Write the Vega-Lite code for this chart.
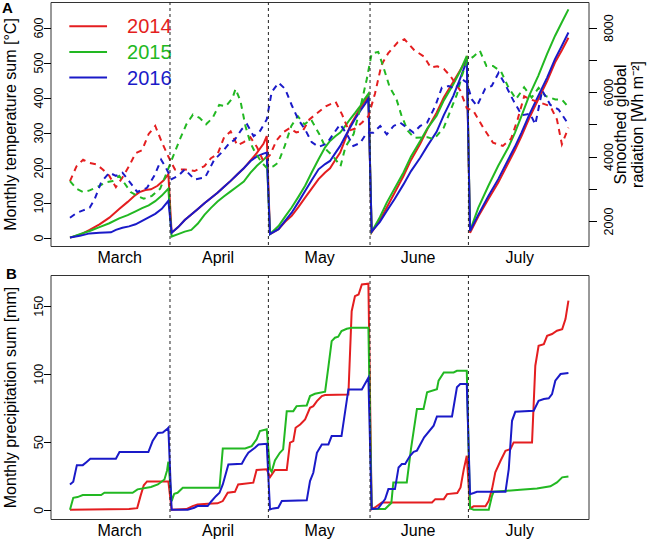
{
"$schema":"https://vega.github.io/schema/vega-lite/v6.json",
"padding":{"left":0.5,"top":0,"right":0,"bottom":0},
"config":{"view":{"stroke":"#333","strokeWidth":1},"font":"Liberation Sans",
"axis":{"domain":false,"grid":false,"labelFont":"Liberation Sans","titleFont":"Liberation Sans","labelColor":"#000","titleColor":"#000","tickColor":"#000","labelFontSize":12.5,"titleFontSize":16,"titleFontWeight":"normal","tickSize":7},
"title":{"font":"Liberation Sans","fontSize":15,"fontWeight":"bold","color":"#000"}},
"datasets":{
"sep":[{"d":31.5},{"d":61.5},{"d":92.5},{"d":122.5}],
"leg":[{"yr":"2014","x1":0.8,"x2":12.3,"xt":18.4,"ly":604},{"yr":"2015","x1":0.8,"x2":12.3,"xt":18.4,"ly":530},{"yr":"2016","x1":0.8,"x2":12.3,"xt":18.4,"ly":457}],
"temp":[
{"yr":"2014","d":1,"v":0},{"yr":"2014","d":4,"v":8},{"yr":"2014","d":7,"v":22},{"yr":"2014","d":10,"v":38},{"yr":"2014","d":13,"v":57},{"yr":"2014","d":16,"v":82},{"yr":"2014","d":18.6,"v":102},{"yr":"2014","d":20.5,"v":118},{"yr":"2014","d":22.2,"v":130},{"yr":"2014","d":24,"v":136},{"yr":"2014","d":25.7,"v":138},{"yr":"2014","d":27.7,"v":148},{"yr":"2014","d":29.5,"v":163},{"yr":"2014","d":31,"v":181},
{"yr":"2014","d":32,"v":14},{"yr":"2014","d":34,"v":30},{"yr":"2014","d":36,"v":50},{"yr":"2014","d":38,"v":66},{"yr":"2014","d":40,"v":82},{"yr":"2014","d":42,"v":98},{"yr":"2014","d":44,"v":113},{"yr":"2014","d":46,"v":128},{"yr":"2014","d":48,"v":145},{"yr":"2014","d":50,"v":162},{"yr":"2014","d":52,"v":180},{"yr":"2014","d":54,"v":198},{"yr":"2014","d":56,"v":220},{"yr":"2014","d":58,"v":242},{"yr":"2014","d":60,"v":268},{"yr":"2014","d":61,"v":290},
{"yr":"2014","d":62,"v":10},{"yr":"2014","d":64.6,"v":24},{"yr":"2014","d":66.6,"v":45},{"yr":"2014","d":68.6,"v":62},{"yr":"2014","d":70.7,"v":88},{"yr":"2014","d":72.7,"v":114},{"yr":"2014","d":74.7,"v":140},{"yr":"2014","d":76.8,"v":167},{"yr":"2014","d":78.8,"v":186},{"yr":"2014","d":80.3,"v":198},{"yr":"2014","d":81.8,"v":220},{"yr":"2014","d":83.4,"v":243},{"yr":"2014","d":85,"v":282},{"yr":"2014","d":86.4,"v":319},{"yr":"2014","d":88,"v":345},{"yr":"2014","d":89.5,"v":371},{"yr":"2014","d":91,"v":390},{"yr":"2014","d":92,"v":405},
{"yr":"2014","d":93,"v":15},{"yr":"2014","d":95.5,"v":50},{"yr":"2014","d":97.6,"v":86},{"yr":"2014","d":100,"v":128},{"yr":"2014","d":102.7,"v":176},{"yr":"2014","d":105,"v":222},{"yr":"2014","d":107.8,"v":268},{"yr":"2014","d":110,"v":310},{"yr":"2014","d":112.8,"v":357},{"yr":"2014","d":115,"v":400},{"yr":"2014","d":117.9,"v":445},{"yr":"2014","d":120,"v":478},{"yr":"2014","d":122,"v":511},
{"yr":"2014","d":123,"v":14},{"yr":"2014","d":125.5,"v":60},{"yr":"2014","d":128.6,"v":110},{"yr":"2014","d":131.6,"v":157},{"yr":"2014","d":134.7,"v":214},{"yr":"2014","d":136.7,"v":250},{"yr":"2014","d":138.7,"v":290},{"yr":"2014","d":141,"v":340},{"yr":"2014","d":143.8,"v":395},{"yr":"2014","d":146.5,"v":447},{"yr":"2014","d":148.9,"v":500},{"yr":"2014","d":151,"v":535},{"yr":"2014","d":153,"v":571},
{"yr":"2015","d":1,"v":0},{"yr":"2015","d":4,"v":10},{"yr":"2015","d":7,"v":19},{"yr":"2015","d":10,"v":30},{"yr":"2015","d":13,"v":41},{"yr":"2015","d":16,"v":55},{"yr":"2015","d":18.6,"v":64},{"yr":"2015","d":21,"v":75},{"yr":"2015","d":23,"v":84},{"yr":"2015","d":25,"v":92},{"yr":"2015","d":27,"v":104},{"yr":"2015","d":29,"v":120},{"yr":"2015","d":31,"v":140},
{"yr":"2015","d":32,"v":3},{"yr":"2015","d":34,"v":10},{"yr":"2015","d":36,"v":17},{"yr":"2015","d":38,"v":22},{"yr":"2015","d":40,"v":40},{"yr":"2015","d":42,"v":65},{"yr":"2015","d":44,"v":85},{"yr":"2015","d":46,"v":103},{"yr":"2015","d":48,"v":118},{"yr":"2015","d":50,"v":132},{"yr":"2015","d":52,"v":146},{"yr":"2015","d":54,"v":160},{"yr":"2015","d":56,"v":185},{"yr":"2015","d":58,"v":205},{"yr":"2015","d":60,"v":222},{"yr":"2015","d":61,"v":232},
{"yr":"2015","d":62,"v":10},{"yr":"2015","d":64.6,"v":33},{"yr":"2015","d":66.6,"v":60},{"yr":"2015","d":68.6,"v":86},{"yr":"2015","d":70.7,"v":117},{"yr":"2015","d":72.7,"v":148},{"yr":"2015","d":74.7,"v":186},{"yr":"2015","d":76.8,"v":224},{"yr":"2015","d":78.8,"v":258},{"yr":"2015","d":80.3,"v":276},{"yr":"2015","d":82,"v":290},{"yr":"2015","d":83.4,"v":300},{"yr":"2015","d":85,"v":320},{"yr":"2015","d":86.4,"v":338},{"yr":"2015","d":88,"v":357},{"yr":"2015","d":89.5,"v":376},{"yr":"2015","d":91,"v":398},{"yr":"2015","d":92,"v":411},
{"yr":"2015","d":93,"v":17},{"yr":"2015","d":95.5,"v":58},{"yr":"2015","d":97.6,"v":100},{"yr":"2015","d":100,"v":140},{"yr":"2015","d":102.7,"v":186},{"yr":"2015","d":105,"v":232},{"yr":"2015","d":107.8,"v":276},{"yr":"2015","d":110,"v":312},{"yr":"2015","d":112.8,"v":348},{"yr":"2015","d":115,"v":392},{"yr":"2015","d":117.9,"v":438},{"yr":"2015","d":120,"v":476},{"yr":"2015","d":122,"v":519},
{"yr":"2015","d":123,"v":19},{"yr":"2015","d":125.5,"v":85},{"yr":"2015","d":128.6,"v":148},{"yr":"2015","d":131.6,"v":205},{"yr":"2015","d":134.7,"v":258},{"yr":"2015","d":136.7,"v":300},{"yr":"2015","d":138.7,"v":348},{"yr":"2015","d":141,"v":405},{"yr":"2015","d":143.8,"v":462},{"yr":"2015","d":146.5,"v":525},{"yr":"2015","d":148.9,"v":576},{"yr":"2015","d":151,"v":615},{"yr":"2015","d":153,"v":652},
{"yr":"2016","d":1,"v":0},{"yr":"2016","d":4,"v":5},{"yr":"2016","d":7,"v":12},{"yr":"2016","d":10,"v":14},{"yr":"2016","d":13.5,"v":15},{"yr":"2016","d":15,"v":22},{"yr":"2016","d":17,"v":28},{"yr":"2016","d":19,"v":32},{"yr":"2016","d":21,"v":38},{"yr":"2016","d":23,"v":48},{"yr":"2016","d":25,"v":58},{"yr":"2016","d":27,"v":68},{"yr":"2016","d":29,"v":82},{"yr":"2016","d":31,"v":105},
{"yr":"2016","d":32,"v":14},{"yr":"2016","d":34,"v":30},{"yr":"2016","d":36,"v":50},{"yr":"2016","d":38,"v":66},{"yr":"2016","d":40,"v":82},{"yr":"2016","d":42,"v":98},{"yr":"2016","d":44,"v":113},{"yr":"2016","d":46,"v":128},{"yr":"2016","d":48,"v":145},{"yr":"2016","d":50,"v":162},{"yr":"2016","d":52,"v":180},{"yr":"2016","d":54,"v":198},{"yr":"2016","d":56,"v":218},{"yr":"2016","d":58,"v":232},{"yr":"2016","d":60,"v":240},{"yr":"2016","d":61,"v":243},
{"yr":"2016","d":62,"v":10},{"yr":"2016","d":64.6,"v":24},{"yr":"2016","d":66.6,"v":48},{"yr":"2016","d":68.6,"v":71},{"yr":"2016","d":70.7,"v":102},{"yr":"2016","d":72.7,"v":133},{"yr":"2016","d":74.7,"v":164},{"yr":"2016","d":76.8,"v":195},{"yr":"2016","d":78.8,"v":210},{"yr":"2016","d":80.3,"v":219},{"yr":"2016","d":81.8,"v":240},{"yr":"2016","d":83.4,"v":262},{"yr":"2016","d":85,"v":290},{"yr":"2016","d":86.4,"v":314},{"yr":"2016","d":88,"v":340},{"yr":"2016","d":89.5,"v":362},{"yr":"2016","d":91,"v":382},{"yr":"2016","d":92,"v":397},
{"yr":"2016","d":93,"v":17},{"yr":"2016","d":95.5,"v":45},{"yr":"2016","d":97.6,"v":76},{"yr":"2016","d":100,"v":110},{"yr":"2016","d":102.7,"v":152},{"yr":"2016","d":105,"v":190},{"yr":"2016","d":107.8,"v":228},{"yr":"2016","d":110,"v":262},{"yr":"2016","d":112.8,"v":302},{"yr":"2016","d":115,"v":350},{"yr":"2016","d":117.9,"v":405},{"yr":"2016","d":120,"v":455},{"yr":"2016","d":122,"v":505},
{"yr":"2016","d":123,"v":19},{"yr":"2016","d":125.5,"v":65},{"yr":"2016","d":128.6,"v":119},{"yr":"2016","d":131.6,"v":167},{"yr":"2016","d":134.7,"v":224},{"yr":"2016","d":136.7,"v":260},{"yr":"2016","d":138.7,"v":300},{"yr":"2016","d":141,"v":350},{"yr":"2016","d":143.8,"v":405},{"yr":"2016","d":146.5,"v":457},{"yr":"2016","d":148.9,"v":510},{"yr":"2016","d":151,"v":548},{"yr":"2016","d":153,"v":586}
],
"rad":[
{"yr":"2014","d":1,"v":3240},{"yr":"2014","d":3,"v":3700},{"yr":"2014","d":5,"v":3900},{"yr":"2014","d":7,"v":3800},{"yr":"2014","d":9,"v":3760},{"yr":"2014","d":11,"v":3600},{"yr":"2014","d":13,"v":3400},{"yr":"2014","d":15,"v":3050},{"yr":"2014","d":17,"v":3350},{"yr":"2014","d":19,"v":3700},{"yr":"2014","d":21,"v":4100},{"yr":"2014","d":23,"v":4200},{"yr":"2014","d":25,"v":4700},{"yr":"2014","d":27,"v":4950},{"yr":"2014","d":29,"v":4450},{"yr":"2014","d":31,"v":4000},{"yr":"2014","d":33,"v":3600},{"yr":"2014","d":36,"v":3600},{"yr":"2014","d":39,"v":3550},{"yr":"2014","d":42,"v":3700},{"yr":"2014","d":44,"v":3950},{"yr":"2014","d":46,"v":4070},{"yr":"2014","d":48,"v":4600},{"yr":"2014","d":50,"v":4780},{"yr":"2014","d":52,"v":4350},{"yr":"2014","d":54,"v":4450},{"yr":"2014","d":56,"v":4600},{"yr":"2014","d":58,"v":4300},{"yr":"2014","d":60,"v":3850},{"yr":"2014","d":62,"v":4050},{"yr":"2014","d":64,"v":4500},{"yr":"2014","d":66,"v":4750},{"yr":"2014","d":68,"v":4880},{"yr":"2014","d":70,"v":4750},{"yr":"2014","d":72,"v":4800},{"yr":"2014","d":74,"v":5150},{"yr":"2014","d":77,"v":5400},{"yr":"2014","d":79,"v":5560},{"yr":"2014","d":82,"v":5700},{"yr":"2014","d":84,"v":5300},{"yr":"2014","d":86,"v":4800},{"yr":"2014","d":88,"v":4870},{"yr":"2014","d":90,"v":5050},{"yr":"2014","d":92,"v":5250},{"yr":"2014","d":94,"v":5950},{"yr":"2014","d":96,"v":6850},{"yr":"2014","d":98,"v":7200},{"yr":"2014","d":101,"v":7550},{"yr":"2014","d":103,"v":7640},{"yr":"2014","d":106,"v":7300},{"yr":"2014","d":109,"v":7100},{"yr":"2014","d":111,"v":6760},{"yr":"2014","d":113,"v":6800},{"yr":"2014","d":115,"v":6720},{"yr":"2014","d":117,"v":6500},{"yr":"2014","d":120,"v":6050},{"yr":"2014","d":122,"v":5500},{"yr":"2014","d":124,"v":5420},{"yr":"2014","d":127,"v":4900},{"yr":"2014","d":130,"v":4430},{"yr":"2014","d":133,"v":4330},{"yr":"2014","d":135.5,"v":4550},{"yr":"2014","d":137.5,"v":5150},{"yr":"2014","d":139.5,"v":5870},{"yr":"2014","d":141.5,"v":5770},{"yr":"2014","d":144.5,"v":5670},{"yr":"2014","d":147.5,"v":5560},{"yr":"2014","d":149.5,"v":5150},{"yr":"2014","d":151,"v":4380},{"yr":"2014","d":153,"v":4900},
{"yr":"2015","d":1,"v":3240},{"yr":"2015","d":3,"v":3000},{"yr":"2015","d":5,"v":2900},{"yr":"2015","d":7,"v":2950},{"yr":"2015","d":10,"v":3090},{"yr":"2015","d":12,"v":3200},{"yr":"2015","d":14,"v":3240},{"yr":"2015","d":16,"v":3400},{"yr":"2015","d":17.5,"v":3190},{"yr":"2015","d":19.5,"v":2900},{"yr":"2015","d":21.5,"v":2780},{"yr":"2015","d":23.5,"v":2690},{"yr":"2015","d":26,"v":2780},{"yr":"2015","d":28.5,"v":3000},{"yr":"2015","d":30.5,"v":3500},{"yr":"2015","d":32.5,"v":4020},{"yr":"2015","d":34.5,"v":4530},{"yr":"2015","d":36.5,"v":5000},{"yr":"2015","d":38.5,"v":5300},{"yr":"2015","d":40.5,"v":5200},{"yr":"2015","d":42.5,"v":5000},{"yr":"2015","d":44.5,"v":5200},{"yr":"2015","d":46.5,"v":5600},{"yr":"2015","d":48.5,"v":5560},{"yr":"2015","d":50.5,"v":5800},{"yr":"2015","d":51.5,"v":6100},{"yr":"2015","d":53,"v":5720},{"yr":"2015","d":54.5,"v":4950},{"yr":"2015","d":56,"v":4430},{"yr":"2015","d":57.5,"v":4120},{"yr":"2015","d":59.5,"v":3810},{"yr":"2015","d":61,"v":3650},{"yr":"2015","d":63,"v":3700},{"yr":"2015","d":64.5,"v":3810},{"yr":"2015","d":66.5,"v":4330},{"yr":"2015","d":68.5,"v":4950},{"yr":"2015","d":70.5,"v":5250},{"yr":"2015","d":72.5,"v":5000},{"yr":"2015","d":74.5,"v":5150},{"yr":"2015","d":77,"v":4700},{"yr":"2015","d":79.3,"v":4200},{"yr":"2015","d":81.3,"v":4000},{"yr":"2015","d":83.5,"v":3700},{"yr":"2015","d":85,"v":4300},{"yr":"2015","d":87.5,"v":4700},{"yr":"2015","d":89.5,"v":5500},{"yr":"2015","d":91.5,"v":6400},{"yr":"2015","d":93,"v":7200},{"yr":"2015","d":95,"v":7250},{"yr":"2015","d":96.5,"v":6800},{"yr":"2015","d":98.5,"v":6150},{"yr":"2015","d":100.5,"v":5800},{"yr":"2015","d":102,"v":5300},{"yr":"2015","d":104,"v":4800},{"yr":"2015","d":106,"v":4580},{"yr":"2015","d":110,"v":4600},{"yr":"2015","d":112,"v":4540},{"yr":"2015","d":115,"v":4900},{"yr":"2015","d":117,"v":5420},{"yr":"2015","d":119,"v":5930},{"yr":"2015","d":120.5,"v":6500},{"yr":"2015","d":122,"v":6950},{"yr":"2015","d":124,"v":7100},{"yr":"2015","d":126,"v":7280},{"yr":"2015","d":128,"v":6810},{"yr":"2015","d":130,"v":6810},{"yr":"2015","d":132.5,"v":6630},{"yr":"2015","d":134.5,"v":6190},{"yr":"2015","d":137,"v":5780},{"yr":"2015","d":139.5,"v":6150},{"yr":"2015","d":141.8,"v":5830},{"yr":"2015","d":143.9,"v":6130},{"yr":"2015","d":146,"v":5880},{"yr":"2015","d":149,"v":5770},{"yr":"2015","d":151,"v":5770},{"yr":"2015","d":153,"v":5530},
{"yr":"2016","d":1,"v":2100},{"yr":"2016","d":3,"v":2250},{"yr":"2016","d":5,"v":2330},{"yr":"2016","d":7,"v":2410},{"yr":"2016","d":8.5,"v":2670},{"yr":"2016","d":10.5,"v":3200},{"yr":"2016","d":13,"v":3500},{"yr":"2016","d":15,"v":3400},{"yr":"2016","d":17,"v":3500},{"yr":"2016","d":19,"v":3240},{"yr":"2016","d":21.5,"v":2900},{"yr":"2016","d":24.5,"v":3030},{"yr":"2016","d":26.7,"v":3400},{"yr":"2016","d":28.8,"v":3900},{"yr":"2016","d":30,"v":3700},{"yr":"2016","d":32,"v":3300},{"yr":"2016","d":34,"v":3400},{"yr":"2016","d":36,"v":3600},{"yr":"2016","d":39,"v":3290},{"yr":"2016","d":42.2,"v":3350},{"yr":"2016","d":45,"v":3900},{"yr":"2016","d":47.5,"v":4150},{"yr":"2016","d":49.5,"v":4400},{"yr":"2016","d":51.3,"v":4530},{"yr":"2016","d":53.4,"v":4850},{"yr":"2016","d":55,"v":5000},{"yr":"2016","d":57,"v":4630},{"yr":"2016","d":59,"v":4800},{"yr":"2016","d":61,"v":5150},{"yr":"2016","d":62.5,"v":6000},{"yr":"2016","d":64.6,"v":6290},{"yr":"2016","d":66.6,"v":6100},{"yr":"2016","d":68.6,"v":5600},{"yr":"2016","d":70.6,"v":5150},{"yr":"2016","d":72.7,"v":4840},{"yr":"2016","d":74.7,"v":4450},{"yr":"2016","d":76.8,"v":4300},{"yr":"2016","d":79.3,"v":4400},{"yr":"2016","d":81.3,"v":4700},{"yr":"2016","d":83.4,"v":5000},{"yr":"2016","d":85.4,"v":4700},{"yr":"2016","d":87.4,"v":4330},{"yr":"2016","d":89.5,"v":4420},{"yr":"2016","d":91.5,"v":4740},{"yr":"2016","d":93.5,"v":4740},{"yr":"2016","d":95.6,"v":4950},{"yr":"2016","d":97.6,"v":4690},{"yr":"2016","d":99.7,"v":4950},{"yr":"2016","d":101.7,"v":5050},{"yr":"2016","d":103.7,"v":4900},{"yr":"2016","d":105.8,"v":4740},{"yr":"2016","d":107.8,"v":4950},{"yr":"2016","d":109.9,"v":5050},{"yr":"2016","d":112.4,"v":5570},{"yr":"2016","d":114.4,"v":6140},{"yr":"2016","d":116.5,"v":6190},{"yr":"2016","d":118.5,"v":6100},{"yr":"2016","d":120.5,"v":6400},{"yr":"2016","d":122,"v":6300},{"yr":"2016","d":123.5,"v":5780},{"yr":"2016","d":125.1,"v":5570},{"yr":"2016","d":127.6,"v":6100},{"yr":"2016","d":129.6,"v":6190},{"yr":"2016","d":131.7,"v":6600},{"yr":"2016","d":133.7,"v":6240},{"yr":"2016","d":136.3,"v":5720},{"yr":"2016","d":138.8,"v":5280},{"yr":"2016","d":141.3,"v":5330},{"yr":"2016","d":142.9,"v":5000},{"yr":"2016","d":145,"v":6050},{"yr":"2016","d":147.5,"v":5600},{"yr":"2016","d":150,"v":5460},{"yr":"2016","d":153,"v":5000}
],
"prec":[
{"yr":"2014","d":1,"v":0},{"yr":"2014","d":19,"v":0.5},{"yr":"2014","d":21.5,"v":1.2},{"yr":"2014","d":22.5,"v":10},{"yr":"2014","d":23.5,"v":18},{"yr":"2014","d":24.5,"v":20.8},{"yr":"2014","d":31,"v":20.8},
{"yr":"2014","d":32,"v":0},{"yr":"2014","d":36.5,"v":0.5},{"yr":"2014","d":38.4,"v":2.7},{"yr":"2014","d":39.9,"v":3.9},{"yr":"2014","d":43,"v":4.4},{"yr":"2014","d":46,"v":4.7},{"yr":"2014","d":47.6,"v":6.4},{"yr":"2014","d":49.1,"v":12.5},{"yr":"2014","d":51.3,"v":13.2},{"yr":"2014","d":52.3,"v":18.6},{"yr":"2014","d":56.9,"v":19.9},{"yr":"2014","d":57.9,"v":29.2},{"yr":"2014","d":61,"v":29.7},
{"yr":"2014","d":62,"v":24},{"yr":"2014","d":63.5,"v":29.2},{"yr":"2014","d":67.1,"v":29.2},{"yr":"2014","d":68.1,"v":49.3},{"yr":"2014","d":69.1,"v":50.5},{"yr":"2014","d":69.8,"v":60.3},{"yr":"2014","d":71.2,"v":62.7},{"yr":"2014","d":72.7,"v":66.4},{"yr":"2014","d":74.2,"v":75},{"yr":"2014","d":75.2,"v":76.2},{"yr":"2014","d":76.3,"v":79.9},{"yr":"2014","d":77.8,"v":83.6},{"yr":"2014","d":78.8,"v":84.3},{"yr":"2014","d":85.9,"v":84.8},{"yr":"2014","d":86.9,"v":146},{"yr":"2014","d":87.9,"v":157},{"yr":"2014","d":89,"v":158.3},{"yr":"2014","d":90,"v":165.7},{"yr":"2014","d":92,"v":166.2},
{"yr":"2014","d":93,"v":0.5},{"yr":"2014","d":94,"v":1.7},{"yr":"2014","d":96.1,"v":5.4},{"yr":"2014","d":111.4,"v":5.4},{"yr":"2014","d":112.4,"v":7.8},{"yr":"2014","d":115,"v":7.8},{"yr":"2014","d":116,"v":11.5},{"yr":"2014","d":119.1,"v":12.3},{"yr":"2014","d":120.1,"v":16.4},{"yr":"2014","d":121.1,"v":29.9},{"yr":"2014","d":122,"v":39.7},
{"yr":"2014","d":123,"v":1},{"yr":"2014","d":124.1,"v":2.5},{"yr":"2014","d":127.7,"v":2.5},{"yr":"2014","d":128.7,"v":6.6},{"yr":"2014","d":129.7,"v":15.2},{"yr":"2014","d":130.7,"v":27.5},{"yr":"2014","d":132.3,"v":36},{"yr":"2014","d":133.8,"v":43.4},{"yr":"2014","d":135.3,"v":44.6},{"yr":"2014","d":136.3,"v":49.5},{"yr":"2014","d":141.9,"v":49.5},{"yr":"2014","d":142.9,"v":105.9},{"yr":"2014","d":143.9,"v":120.6},{"yr":"2014","d":145.5,"v":121.8},{"yr":"2014","d":146.5,"v":127.9},{"yr":"2014","d":148,"v":129.2},{"yr":"2014","d":149.5,"v":131.6},{"yr":"2014","d":151.1,"v":132.8},{"yr":"2014","d":152.1,"v":140.2},{"yr":"2014","d":153,"v":153.7},
{"yr":"2015","d":1,"v":0},{"yr":"2015","d":2,"v":8.8},{"yr":"2015","d":3.3,"v":9.3},{"yr":"2015","d":4.9,"v":10.8},{"yr":"2015","d":10.5,"v":10.8},{"yr":"2015","d":11.5,"v":12.5},{"yr":"2015","d":20.1,"v":12.5},{"yr":"2015","d":21.6,"v":15},{"yr":"2015","d":25.7,"v":16.7},{"yr":"2015","d":27.8,"v":18.6},{"yr":"2015","d":29.8,"v":22.3},{"yr":"2015","d":30.6,"v":28.9},{"yr":"2015","d":31,"v":35.3},
{"yr":"2015","d":32,"v":6.4},{"yr":"2015","d":32.8,"v":11.8},{"yr":"2015","d":33.8,"v":12.5},{"yr":"2015","d":35.4,"v":16.2},{"yr":"2015","d":46.6,"v":16.2},{"yr":"2015","d":47.6,"v":45.1},{"yr":"2015","d":54.4,"v":45.1},{"yr":"2015","d":56.4,"v":46.8},{"yr":"2015","d":57.9,"v":51.7},{"yr":"2015","d":58.9,"v":57.8},{"yr":"2015","d":61,"v":59.1},
{"yr":"2015","d":62,"v":29.7},{"yr":"2015","d":62.5,"v":28},{"yr":"2015","d":63.5,"v":36.3},{"yr":"2015","d":65,"v":41.9},{"yr":"2015","d":66,"v":44.4},{"yr":"2015","d":67.1,"v":72.5},{"yr":"2015","d":69.1,"v":72.5},{"yr":"2015","d":70.1,"v":76.2},{"yr":"2015","d":73.2,"v":76.7},{"yr":"2015","d":74.2,"v":83.6},{"yr":"2015","d":75.7,"v":85.3},{"yr":"2015","d":78.8,"v":86.8},{"yr":"2015","d":79.8,"v":105},{"yr":"2015","d":80.8,"v":124},{"yr":"2015","d":81.8,"v":126.5},{"yr":"2015","d":82.8,"v":127.2},{"yr":"2015","d":83.8,"v":131.4},{"yr":"2015","d":85.4,"v":133.1},{"yr":"2015","d":86.9,"v":133.8},{"yr":"2015","d":92,"v":133.8},
{"yr":"2015","d":93,"v":0.5},{"yr":"2015","d":97.1,"v":0.5},{"yr":"2015","d":98.1,"v":2.9},{"yr":"2015","d":99,"v":5},{"yr":"2015","d":99.6,"v":20.1},{"yr":"2015","d":103.7,"v":20.1},{"yr":"2015","d":105,"v":45},{"yr":"2015","d":106.8,"v":74},{"yr":"2015","d":108.8,"v":74},{"yr":"2015","d":109.9,"v":86.3},{"yr":"2015","d":112.9,"v":88.7},{"yr":"2015","d":113.4,"v":94.9},{"yr":"2015","d":115,"v":101},{"yr":"2015","d":118,"v":101},{"yr":"2015","d":119,"v":102.2},{"yr":"2015","d":122,"v":102.2},
{"yr":"2015","d":123,"v":1},{"yr":"2015","d":124.1,"v":0},{"yr":"2015","d":128.7,"v":0},{"yr":"2015","d":129.7,"v":10.3},{"yr":"2015","d":130.2,"v":13.2},{"yr":"2015","d":134.3,"v":14},{"yr":"2015","d":138.3,"v":14.7},{"yr":"2015","d":143.4,"v":15.7},{"yr":"2015","d":147.5,"v":17.2},{"yr":"2015","d":149.5,"v":20.1},{"yr":"2015","d":151.1,"v":23.8},{"yr":"2015","d":153,"v":24.5},
{"yr":"2016","d":1,"v":18.6},{"yr":"2016","d":2,"v":20.6},{"yr":"2016","d":3.1,"v":32.8},{"yr":"2016","d":4.9,"v":32.8},{"yr":"2016","d":6,"v":35},{"yr":"2016","d":7.2,"v":37.5},{"yr":"2016","d":15,"v":37.5},{"yr":"2016","d":16.1,"v":42.4},{"yr":"2016","d":24.9,"v":42.4},{"yr":"2016","d":26.2,"v":50.5},{"yr":"2016","d":27.8,"v":56.4},{"yr":"2016","d":29.3,"v":56.8},{"yr":"2016","d":30.8,"v":59.8},{"yr":"2016","d":31,"v":60.3},
{"yr":"2016","d":32,"v":0},{"yr":"2016","d":36.9,"v":0},{"yr":"2016","d":38.9,"v":1.5},{"yr":"2016","d":39.9,"v":2.7},{"yr":"2016","d":43,"v":2.7},{"yr":"2016","d":44,"v":5.9},{"yr":"2016","d":45.5,"v":10},{"yr":"2016","d":46.6,"v":12.5},{"yr":"2016","d":47.6,"v":18.6},{"yr":"2016","d":49.3,"v":33.3},{"yr":"2016","d":53.4,"v":33.8},{"yr":"2016","d":54.4,"v":38.2},{"yr":"2016","d":55.4,"v":41.9},{"yr":"2016","d":57.4,"v":45.6},{"yr":"2016","d":58.5,"v":48},{"yr":"2016","d":61,"v":48.5},
{"yr":"2016","d":62,"v":0.2},{"yr":"2016","d":63,"v":1},{"yr":"2016","d":64.5,"v":1.5},{"yr":"2016","d":65.6,"v":6.4},{"yr":"2016","d":73.2,"v":6.9},{"yr":"2016","d":74.2,"v":21.1},{"yr":"2016","d":75.2,"v":27.2},{"yr":"2016","d":76.3,"v":41.9},{"yr":"2016","d":77.8,"v":48},{"yr":"2016","d":79.8,"v":48},{"yr":"2016","d":80.8,"v":54.2},{"yr":"2016","d":83.8,"v":54.2},{"yr":"2016","d":85.9,"v":88.5},{"yr":"2016","d":90,"v":88.5},{"yr":"2016","d":92,"v":97.1},
{"yr":"2016","d":93,"v":0.5},{"yr":"2016","d":95,"v":1},{"yr":"2016","d":97.1,"v":7.8},{"yr":"2016","d":98.1,"v":15.2},{"yr":"2016","d":100.1,"v":15.2},{"yr":"2016","d":101.2,"v":31.1},{"yr":"2016","d":102.2,"v":33.6},{"yr":"2016","d":103.2,"v":33.6},{"yr":"2016","d":104.7,"v":39.7},{"yr":"2016","d":105.8,"v":42.6},{"yr":"2016","d":106.8,"v":43.5},{"yr":"2016","d":109,"v":53.2},{"yr":"2016","d":111.9,"v":61.8},{"yr":"2016","d":112.9,"v":68.6},{"yr":"2016","d":117.5,"v":68.6},{"yr":"2016","d":119,"v":90},{"yr":"2016","d":120,"v":92.4},{"yr":"2016","d":122,"v":92.4},
{"yr":"2016","d":123,"v":11.5},{"yr":"2016","d":124.1,"v":12.3},{"yr":"2016","d":125.1,"v":13.2},{"yr":"2016","d":133.8,"v":13.2},{"yr":"2016","d":134.8,"v":29.9},{"yr":"2016","d":135.8,"v":65.4},{"yr":"2016","d":136.8,"v":72},{"yr":"2016","d":142.4,"v":72.8},{"yr":"2016","d":143.9,"v":80.1},{"yr":"2016","d":145.5,"v":81.4},{"yr":"2016","d":147,"v":81.9},{"yr":"2016","d":148,"v":85},{"yr":"2016","d":149,"v":94.9},{"yr":"2016","d":150.6,"v":99.8},{"yr":"2016","d":153,"v":100.5}
]},
"bounds":"flush",
"spacing":29,
"vconcat":[
{"width":538,"height":244,
"title":{"text":"A","anchor":"start","frame":"bounds","offset":-26,"baseline":"alphabetic"},
"layer":[
{"data":{"name":"temp"},"mark":{"type":"line","strokeWidth":2},
"encoding":{
"x":{"field":"d","type":"quantitative","title":null,"scale":{"domain":[-4.94,159.12],"nice":false,"zero":false},"axis":{"values":[16,46,77,107,138],"labelExpr":"datum.value==16?'March':datum.value==46?'April':datum.value==77?'May':datum.value==107?'June':'July'","ticks":false,"tickSize":0,"labelPadding":3,"labelFontSize":16}},
"y":{"field":"v","type":"quantitative","title":"Monthly temperature sum [°C]","scale":{"domain":[-24,673],"nice":false,"zero":false},"axis":{"values":[0,100,200,300,400,500,600],"labelAngle":270,"labelAlign":"center","labelBaseline":"alphabetic","labelPadding":1.5,"titleX":-35.5,"titleY":122,"titleAngle":270,"titleAlign":"center","titleBaseline":"alphabetic"}},
"color":{"field":"yr","type":"nominal","scale":{"domain":["2014","2015","2016"],"range":["#e41e20","#22b822","#1a1ac8"]},"legend":null}}},
{"data":{"name":"leg"},"mark":{"type":"rule","strokeWidth":2},
"encoding":{"x":{"field":"x1","type":"quantitative","title":null},"x2":{"field":"x2"},"y":{"field":"ly","type":"quantitative","scale":{"domain":[-24,673],"nice":false,"zero":false},"axis":null},"color":{"field":"yr","type":"nominal","legend":null}}},
{"data":{"name":"leg"},"mark":{"type":"text","align":"left","baseline":"middle","fontSize":20,"font":"Liberation Sans","dy":1},
"encoding":{"x":{"field":"xt","type":"quantitative","title":null},"y":{"field":"ly","type":"quantitative","scale":{"domain":[-24,673],"nice":false,"zero":false},"axis":null},"text":{"field":"yr"},"color":{"field":"yr","type":"nominal","legend":null}}},
{"data":{"name":"rad"},"mark":{"type":"line","strokeWidth":2,"strokeDash":[6,5]},
"encoding":{"x":{"field":"d","type":"quantitative","title":null},
"y":{"field":"v","type":"quantitative","title":["Smoothed global","radiation [Wh m⁻²]"],"scale":{"domain":[1224,8796],"nice":false,"zero":false},"axis":{"orient":"right","values":[2000,3000,4000,5000,6000,7000,8000],"format":"d","labelExpr":"datum.value % 2000 === 0 ? datum.label : ''","labelAngle":270,"labelAlign":"center","labelBaseline":"alphabetic","labelPadding":16,"tickSize":8,"titleX":37,"titleY":122,"titleAngle":270,"titleAlign":"center","titleBaseline":"alphabetic","titleLineHeight":17}},
"color":{"field":"yr","type":"nominal","legend":null}}},
{"data":{"name":"sep"},"mark":{"type":"rule","strokeDash":[3,3],"color":"#222","strokeWidth":1},
"encoding":{"x":{"field":"d","type":"quantitative","title":null}}}
],
"resolve":{"scale":{"y":"independent"}}},
{"width":538,"height":244,
"title":{"text":"B","anchor":"start","frame":"bounds","offset":-19.3,"baseline":"alphabetic","dx":4},
"layer":[
{"data":{"name":"prec"},"mark":{"type":"line","strokeWidth":2},
"encoding":{
"x":{"field":"d","type":"quantitative","title":null,"scale":{"domain":[-4.94,159.12],"nice":false,"zero":false},"axis":{"values":[16,46,77,107,138],"labelExpr":"datum.value==16?'March':datum.value==46?'April':datum.value==77?'May':datum.value==107?'June':'July'","ticks":false,"tickSize":0,"labelPadding":3,"labelFontSize":16}},
"y":{"field":"v","type":"quantitative","title":"Monthly precipitation sum [mm]","scale":{"domain":[-6.8,172.6],"nice":false,"zero":false},"axis":{"values":[0,50,100,150],"labelAngle":270,"labelAlign":"center","labelBaseline":"alphabetic","labelPadding":1.5,"titleX":-35.5,"titleY":122,"titleAngle":270,"titleAlign":"center","titleBaseline":"alphabetic"}},
"color":{"field":"yr","type":"nominal","legend":null}}},
{"data":{"name":"sep"},"mark":{"type":"rule","strokeDash":[3,3],"color":"#222","strokeWidth":1},
"encoding":{"x":{"field":"d","type":"quantitative","title":null}}}
]}
]
}
